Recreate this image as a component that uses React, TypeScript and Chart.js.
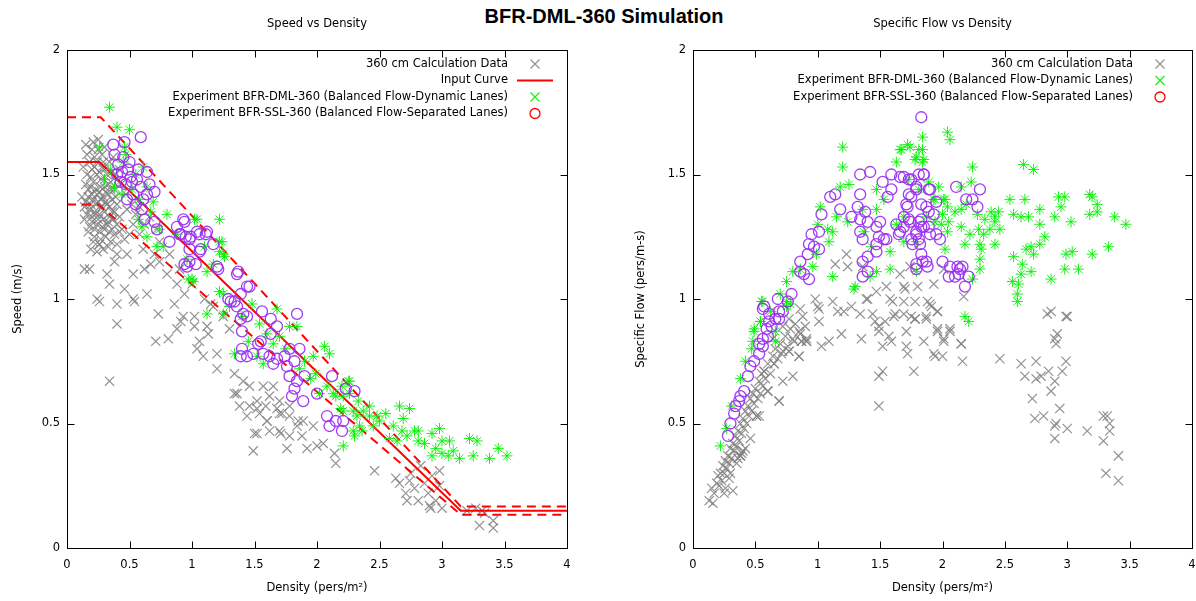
import { useEffect, useRef } from "react";
import { Chart, registerables } from "chart.js";
Chart.register(...registerables);

type P = [number, number];

const mainTitle = "BFR-DML-360 Simulation";
const leftTitle = "Speed vs Density";
const rightTitle = "Specific Flow vs Density";
const xAxisTitle = "Density (pers/m²)";
const leftYTitle = "Speed (m/s)";
const rightYTitle = "Specific Flow (pers/m-s)";
const seriesNames = [
  "360 cm Calculation Data",
  "Input Curve",
  "Experiment BFR-DML-360 (Balanced Flow-Dynamic Lanes)",
  "Experiment BFR-SSL-360 (Balanced Flow-Separated Lanes)",
];
const densityTicks = [0, 0.5, 1, 1.5, 2, 2.5, 3, 3.5, 4];
const valueTicks = [0, 0.5, 1, 1.5, 2];

// Input curve and its bounds (density, speed)
const inputCurve: P[] = [[0, 1.55], [0.26, 1.55], [3.15, 0.15], [4, 0.15]];
const inputUpper: P[] = [[0, 1.73], [0.27, 1.73], [3.15, 0.167], [4, 0.167]];
const inputLower: P[] = [[0, 1.38], [0.25, 1.38], [3.15, 0.134], [4, 0.134]];

// Speed vs density: calculation data
const calcSpeed: P[] = [
  [0.15, 1.62], [0.2, 1.6], [0.25, 1.64], [0.18, 1.55], [0.22, 1.57], [0.28, 1.58], [0.3, 1.52], [0.16, 1.5],
  [0.2, 1.52], [0.24, 1.5], [0.27, 1.48], [0.32, 1.5], [0.35, 1.47], [0.15, 1.46], [0.19, 1.45], [0.23, 1.44],
  [0.26, 1.43], [0.3, 1.45], [0.33, 1.42], [0.38, 1.44], [0.17, 1.41], [0.21, 1.4], [0.25, 1.39], [0.29, 1.41],
  [0.32, 1.38], [0.36, 1.4], [0.4, 1.38], [0.14, 1.37], [0.18, 1.36], [0.22, 1.35], [0.26, 1.34], [0.3, 1.35],
  [0.34, 1.33], [0.38, 1.35], [0.42, 1.33], [0.2, 1.31], [0.24, 1.3], [0.28, 1.29], [0.32, 1.3], [0.36, 1.28],
  [0.4, 1.3], [0.44, 1.28], [0.17, 1.27], [0.22, 1.25], [0.27, 1.24], [0.31, 1.25], [0.35, 1.23], [0.46, 1.24],
  [0.5, 1.26], [0.19, 1.2], [0.24, 1.19], [0.29, 1.2], [0.14, 1.32], [0.12, 1.41], [0.13, 1.53], [0.21, 1.47],
  [0.34, 1.55], [0.39, 1.5], [0.43, 1.46], [0.47, 1.42], [0.52, 1.38], [0.55, 1.34], [0.48, 1.36], [0.37, 1.57],
  [0.24, 1.55], [0.3, 1.61], [0.42, 1.52], [0.23, 1.34], [0.28, 1.37], [0.36, 1.35],
  [0.16, 1.58], [0.19, 1.49], [0.22, 1.53], [0.26, 1.51], [0.29, 1.55], [0.33, 1.46], [0.36, 1.51], [0.17, 1.44],
  [0.2, 1.42], [0.24, 1.42], [0.27, 1.45], [0.31, 1.43], [0.35, 1.44], [0.15, 1.39], [0.19, 1.38], [0.23, 1.38],
  [0.27, 1.4], [0.31, 1.39], [0.34, 1.37], [0.39, 1.41], [0.16, 1.34], [0.2, 1.33], [0.25, 1.32], [0.29, 1.32],
  [0.33, 1.31], [0.37, 1.32], [0.18, 1.29], [0.22, 1.28], [0.26, 1.27], [0.3, 1.28], [0.34, 1.27], [0.38, 1.26],
  [0.42, 1.27], [0.21, 1.23], [0.26, 1.22], [0.33, 1.21], [0.4, 1.22], [0.25, 1.6], [0.21, 1.63], [0.28, 1.53],
  [0.14, 1.12], [0.18, 1.12], [0.32, 1.1], [0.26, 1.22], [0.38, 1.15], [0.4, 1.18], [0.34, 1.06], [0.46, 1.04],
  [0.53, 1.1], [0.62, 1.12], [0.67, 1.14], [0.74, 1.15], [0.8, 1.1], [0.88, 1.06], [0.94, 1.02], [0.64, 1.02],
  [0.53, 1.0], [0.24, 1.0], [0.48, 1.18], [0.7, 1.18], [0.74, 1.23], [0.58, 1.26], [0.62, 1.3], [0.53, 1.3],
  [0.61, 1.2], [0.26, 0.99], [0.4, 0.98], [0.54, 0.99], [0.86, 0.98], [1.15, 0.98], [0.73, 0.94], [0.4, 0.9],
  [0.71, 0.83], [0.81, 0.84], [0.88, 0.88], [0.91, 0.91], [1.02, 0.89], [1.13, 0.86], [1.06, 0.83], [0.34, 0.67],
  [0.93, 0.93], [1.02, 0.93], [1.12, 0.89], [1.17, 0.97], [1.04, 0.8], [1.09, 0.77], [1.2, 0.78], [1.2, 0.72],
  [1.34, 0.7], [1.36, 0.62], [1.41, 0.67], [1.46, 0.65], [1.52, 0.59], [1.46, 0.57], [1.57, 0.65], [1.65, 0.65],
  [1.62, 0.61], [1.7, 0.59], [1.54, 0.54], [1.52, 0.46], [1.6, 0.51], [1.7, 0.54], [1.78, 0.57], [1.78, 0.53],
  [1.89, 0.51], [1.84, 0.49], [1.97, 0.49], [1.78, 0.45], [1.7, 0.47], [1.62, 0.47], [1.49, 0.39], [1.76, 0.4],
  [1.92, 0.4], [2.0, 0.41], [2.05, 0.42], [1.38, 0.57], [1.44, 0.53], [1.34, 0.62], [1.52, 0.56], [1.59, 0.57],
  [1.68, 0.56], [2.14, 0.38], [2.15, 0.34], [1.5, 0.46], [1.71, 0.46], [1.88, 0.45], [1.85, 0.51], [1.72, 0.54],
  [1.6, 0.51], [2.46, 0.31], [2.63, 0.28], [2.66, 0.26], [2.74, 0.27], [2.78, 0.24], [2.72, 0.19], [2.81, 0.19],
  [2.86, 0.26], [2.89, 0.22], [2.91, 0.16], [2.95, 0.19], [2.98, 0.31], [3.0, 0.16], [2.83, 0.33], [2.92, 0.29],
  [2.71, 0.22], [2.75, 0.3], [2.98, 0.25], [3.3, 0.09], [3.41, 0.08], [3.41, 0.11], [3.32, 0.15], [3.2, 0.15],
  [3.27, 0.16], [2.9, 0.17], [3.34, 0.14], [0.58, 1.37], [0.66, 1.33], [0.72, 1.28], [0.82, 1.18], [0.9, 1.12],
  [1.0, 1.06], [1.1, 1.0], [1.3, 0.88], [1.25, 0.93],
];

// Speed vs density: experiment DML (green)
const dmlSpeed: P[] = [
  [0.34, 1.77], [0.4, 1.69], [0.5, 1.68], [0.26, 1.61], [0.46, 1.61], [0.47, 1.58], [0.61, 1.53], [0.55, 1.5],
  [0.64, 1.45], [0.69, 1.39], [0.67, 1.35], [0.8, 1.34], [1.22, 1.32], [1.04, 1.32], [0.74, 1.28], [0.6, 1.29],
  [0.88, 1.26], [1.22, 1.23], [1.1, 1.21], [1.25, 1.18], [1.12, 1.11], [0.96, 1.16], [1.0, 1.08], [1.22, 1.03],
  [0.97, 1.08], [0.77, 1.21], [0.72, 1.21], [0.64, 1.25], [1.17, 1.14], [0.57, 1.32], [1.02, 1.32], [1.24, 1.23],
  [1.22, 1.19], [1.26, 1.17], [1.01, 1.07], [1.25, 1.02], [1.12, 0.94], [1.25, 0.94], [1.3, 0.97], [1.48, 0.98],
  [1.68, 0.96], [1.54, 0.9], [1.78, 0.89], [1.84, 0.89], [1.7, 0.85], [1.45, 0.83], [1.52, 0.77], [1.34, 0.78],
  [1.97, 0.77], [2.06, 0.81], [2.1, 0.78], [1.57, 0.74], [1.86, 0.72], [1.99, 0.7], [2.08, 0.65], [2.26, 0.67],
  [2.2, 0.65], [2.21, 0.61], [2.33, 0.59], [2.42, 0.57], [2.48, 0.53], [2.32, 0.53], [2.21, 0.55], [2.13, 0.62],
  [2.36, 0.47], [2.3, 0.45], [2.21, 0.41], [2.25, 0.67], [2.26, 0.62], [2.15, 0.61], [2.19, 0.56], [2.29, 0.55],
  [2.37, 0.55], [2.42, 0.53], [2.5, 0.51], [2.45, 0.49], [2.34, 0.49], [2.29, 0.47], [2.66, 0.57], [2.74, 0.56],
  [2.55, 0.54], [2.69, 0.52], [2.61, 0.49], [2.68, 0.47], [2.58, 0.44], [2.64, 0.43], [2.72, 0.45], [2.81, 0.47],
  [2.81, 0.43], [2.78, 0.47], [2.86, 0.42], [2.92, 0.46], [2.98, 0.48], [3.0, 0.43], [2.95, 0.4], [3.0, 0.38],
  [3.06, 0.43], [3.09, 0.39], [3.14, 0.36], [2.92, 0.37], [3.05, 0.37], [3.22, 0.44], [3.28, 0.43], [3.25, 0.37],
  [3.38, 0.36], [3.45, 0.4], [3.52, 0.37], [0.3, 1.48], [0.38, 1.45], [0.44, 1.42], [0.52, 1.44], [0.58, 1.4],
  [0.45, 1.55], [0.35, 1.52], [1.65, 0.82], [1.75, 0.8], [1.9, 0.75], [1.95, 0.68], [2.02, 0.62], [1.6, 0.86],
  [1.4, 0.93],
];

// Speed vs density: experiment SSL (purple)
const sslSpeed: P[] = [
  [0.37, 1.62], [0.46, 1.63], [0.59, 1.65], [0.38, 1.58], [0.41, 1.54], [0.49, 1.52], [0.51, 1.49], [0.47, 1.46],
  [0.56, 1.48], [0.64, 1.51], [0.7, 1.43], [0.64, 1.42], [0.59, 1.45], [0.4, 1.5], [0.43, 1.47], [0.53, 1.42],
  [0.62, 1.32], [0.7, 1.31], [0.72, 1.28], [0.82, 1.23], [0.88, 1.29], [0.94, 1.31], [0.91, 1.26], [0.99, 1.25],
  [1.04, 1.27], [1.12, 1.27], [1.07, 1.2], [0.96, 1.13], [1.03, 1.14], [1.21, 1.12], [1.36, 1.1], [1.44, 1.05],
  [1.29, 1.0], [1.34, 0.99], [0.5, 1.55], [0.45, 1.57], [0.93, 1.32], [0.9, 1.26], [0.95, 1.25], [0.98, 1.24],
  [1.06, 1.26], [1.11, 1.26], [1.17, 1.22], [0.98, 1.2], [1.06, 1.19], [0.98, 1.15], [0.94, 1.14], [1.2, 1.13],
  [1.37, 1.11], [1.46, 1.05], [1.39, 1.02], [1.31, 0.99], [1.36, 0.97], [1.41, 0.94], [1.39, 0.92], [1.44, 0.93],
  [1.4, 0.87], [1.56, 0.95], [1.63, 0.92], [1.68, 0.89], [1.63, 0.86], [1.55, 0.83], [1.84, 0.94], [1.53, 0.82],
  [1.4, 0.8], [1.39, 0.77], [1.44, 0.77], [1.49, 0.78], [1.57, 0.78], [1.62, 0.77], [1.68, 0.76], [1.74, 0.77],
  [1.78, 0.8], [1.86, 0.8], [1.82, 0.75], [1.65, 0.74], [1.76, 0.73], [1.78, 0.69], [1.84, 0.67], [1.9, 0.69],
  [1.82, 0.64], [2.0, 0.62], [1.8, 0.61], [1.89, 0.59], [2.12, 0.69], [2.23, 0.64], [2.3, 0.63], [2.08, 0.53],
  [2.15, 0.51], [2.21, 0.51], [2.1, 0.49], [2.2, 0.47], [0.48, 1.4], [0.55, 1.38], [0.6, 1.36], [0.52, 1.47],
  [0.57, 1.52], [0.66, 1.46], [0.44, 1.51], [0.61, 1.4],
];

// Specific flow vs density: calculation data
const calcFlow: P[] = [
  [0.13, 0.19], [0.16, 0.18], [0.15, 0.24], [0.17, 0.22], [0.19, 0.26], [0.21, 0.25], [0.2, 0.29], [0.22, 0.3],
  [0.23, 0.27], [0.24, 0.33], [0.25, 0.3], [0.26, 0.35], [0.27, 0.32], [0.28, 0.37], [0.29, 0.34], [0.3, 0.4],
  [0.31, 0.36], [0.32, 0.23], [0.32, 0.42], [0.33, 0.39], [0.34, 0.45], [0.35, 0.41], [0.36, 0.47], [0.37, 0.43],
  [0.38, 0.37], [0.38, 0.5], [0.39, 0.46], [0.4, 0.52], [0.41, 0.48], [0.42, 0.55], [0.43, 0.5], [0.44, 0.57],
  [0.45, 0.53], [0.46, 0.6], [0.47, 0.55], [0.48, 0.62], [0.49, 0.58], [0.5, 0.64], [0.51, 0.53], [0.52, 0.6],
  [0.53, 0.67], [0.54, 0.62], [0.55, 0.7], [0.56, 0.65], [0.57, 0.71], [0.58, 0.68], [0.6, 0.63], [0.6, 0.74],
  [0.62, 0.7], [0.64, 0.77], [0.65, 0.74], [0.66, 0.8], [0.68, 0.76], [0.69, 0.59], [0.7, 0.82], [0.72, 0.67],
  [0.72, 0.79], [0.74, 0.85], [0.76, 0.81], [0.77, 0.79], [0.78, 0.88], [0.8, 0.69], [0.8, 0.84], [0.81, 0.83],
  [0.82, 0.9], [0.85, 0.77], [0.85, 0.87], [0.87, 0.83], [0.88, 0.93], [0.91, 0.83], [0.9, 0.89], [0.25, 0.22],
  [0.29, 0.28], [0.35, 0.34], [0.42, 0.4], [0.46, 0.44], [0.36, 0.36], [0.39, 0.38], [0.26, 0.24], [0.3, 0.3],
  [0.38, 0.37], [0.4, 0.39], [0.51, 0.53], [0.53, 0.53], [0.69, 0.59], [0.6, 0.63], [0.57, 0.71], [0.65, 0.74],
  [0.71, 0.78], [0.77, 0.79], [0.85, 0.77], [0.87, 0.83], [0.91, 0.83], [1.03, 0.81], [1.09, 0.83], [1.19, 0.86],
  [1.01, 0.96], [1.01, 0.91], [1.12, 0.99], [1.21, 0.95], [1.34, 0.94], [1.35, 0.84], [1.4, 1.0], [1.44, 0.94],
  [1.46, 0.91], [1.49, 0.89], [1.49, 0.87], [1.52, 0.81], [1.54, 0.91], [1.57, 0.85], [1.59, 0.83], [1.49, 0.69],
  [1.52, 0.71], [1.49, 0.57], [1.6, 0.99], [1.62, 0.94], [1.69, 0.94], [1.75, 0.93], [1.78, 0.92], [1.71, 0.87],
  [1.71, 0.81], [1.72, 0.78], [1.77, 0.71], [1.85, 0.83], [1.87, 0.93], [1.9, 0.98], [1.96, 0.95], [1.96, 0.87],
  [1.93, 0.78], [1.94, 0.77], [2.0, 0.77], [2.01, 0.83], [2.06, 0.87], [2.15, 0.82], [2.16, 0.75], [2.46, 0.76],
  [2.63, 0.74], [2.66, 0.69], [2.75, 0.75], [2.84, 0.94], [2.99, 0.93], [2.72, 0.6], [2.74, 0.52], [2.81, 0.53],
  [2.75, 0.68], [2.79, 0.69], [2.85, 0.71], [2.87, 0.63], [2.9, 0.67], [2.9, 0.84], [2.91, 0.82], [2.96, 0.71],
  [2.99, 0.75], [2.94, 0.56], [2.9, 0.49], [2.91, 0.5], [2.9, 0.44], [3.0, 0.48], [3.16, 0.47], [3.29, 0.53],
  [3.32, 0.53], [3.34, 0.5], [3.34, 0.47], [3.29, 0.43], [3.41, 0.37], [3.31, 0.3], [3.41, 0.27],
  [1.23, 1.18], [1.14, 1.14], [1.24, 1.13], [1.36, 1.13], [1.66, 1.1], [1.55, 1.05], [1.47, 1.03], [1.39, 1.0],
  [1.58, 1.0], [1.69, 1.05], [1.8, 1.05], [1.91, 0.97], [1.61, 0.93], [1.27, 0.97], [1.16, 0.95], [1.0, 0.97],
  [0.98, 1.0], [0.86, 0.96], [0.86, 0.86], [0.91, 0.84], [0.64, 0.84], [0.72, 0.89], [0.77, 0.92], [1.74, 1.13],
  [1.93, 1.06], [2.01, 1.12], [1.7, 1.04], [1.69, 0.99], [1.78, 0.99], [1.88, 0.99], [1.96, 0.95], [2.17, 1.01],
  [1.78, 0.92], [1.87, 0.92], [1.96, 0.88], [2.06, 0.88], [2.01, 0.84], [2.15, 0.82], [2.87, 0.95], [3.0, 0.93],
  [2.92, 0.86],
];

// Specific flow vs density: experiment DML (green)
const dmlFlow: P[] = [
  [1.2, 1.61], [1.2, 1.53], [1.18, 1.45], [1.25, 1.46], [1.02, 1.37], [1.15, 1.33], [1.08, 1.28], [1.0, 1.3],
  [1.12, 1.27], [1.24, 1.31], [1.09, 1.23], [0.99, 1.18], [0.96, 1.13], [0.8, 1.11], [0.86, 1.12], [1.12, 1.09],
  [1.3, 1.05], [0.75, 1.07], [0.55, 0.99], [0.54, 0.91], [0.49, 0.88], [0.48, 0.83], [0.75, 0.99], [0.78, 0.98],
  [1.36, 1.36], [1.47, 1.44], [1.37, 1.27], [1.43, 1.21], [1.47, 1.36], [1.53, 1.4], [1.63, 1.55], [1.67, 1.6],
  [1.72, 1.62], [1.79, 1.57], [1.81, 1.6], [1.84, 1.65], [1.85, 1.56], [1.73, 1.48], [1.81, 1.44], [1.89, 1.47],
  [1.94, 1.4], [1.94, 1.31], [1.87, 1.33], [1.79, 1.23], [1.69, 1.23], [1.58, 1.19], [1.47, 1.11], [1.58, 1.12],
  [1.79, 1.11], [1.29, 1.04], [1.42, 1.09], [1.63, 1.3], [1.69, 1.33], [2.04, 1.67], [2.06, 1.64], [1.84, 1.6],
  [1.66, 1.6], [1.74, 1.61], [1.78, 1.56], [1.84, 1.55], [2.24, 1.53], [2.65, 1.54], [2.73, 1.52], [2.23, 1.47],
  [2.15, 1.45], [1.97, 1.45], [2.01, 1.4], [2.04, 1.37], [2.1, 1.35], [2.19, 1.38], [2.39, 1.35], [2.45, 1.35],
  [2.42, 1.31], [2.34, 1.32], [2.54, 1.4], [2.66, 1.4], [2.57, 1.34], [2.63, 1.33], [2.69, 1.33], [2.78, 1.36],
  [2.78, 1.3], [2.9, 1.33], [2.93, 1.41], [2.98, 1.41], [2.95, 1.37], [3.03, 1.31], [3.18, 1.42], [3.2, 1.41],
  [3.24, 1.38], [3.18, 1.34], [3.24, 1.35], [3.38, 1.33], [3.47, 1.3], [3.33, 1.21], [3.2, 1.18], [3.04, 1.19],
  [2.99, 1.18], [2.98, 1.12], [3.09, 1.12], [2.87, 1.08], [2.82, 1.25], [2.78, 1.22], [2.73, 1.18], [2.71, 1.21],
  [2.67, 1.2], [2.64, 1.14], [2.63, 1.1], [2.71, 1.11], [2.57, 1.17], [2.56, 1.07], [2.61, 1.06], [2.6, 1.02],
  [2.3, 1.22], [2.31, 1.2], [2.33, 1.26], [2.42, 1.22], [2.38, 1.28], [2.46, 1.28], [2.29, 1.28], [2.22, 1.26],
  [2.3, 1.16], [2.3, 1.12], [2.24, 1.08], [2.18, 0.93], [2.15, 1.29], [2.18, 1.22], [2.05, 1.31], [1.99, 1.3],
  [2.04, 1.27], [2.0, 1.34], [2.15, 1.36], [2.02, 1.2], [2.28, 1.34], [2.42, 1.33], [1.93, 1.4], [2.02, 1.4],
  [0.22, 0.41], [0.31, 0.57], [0.38, 0.68], [0.47, 0.8], [0.54, 0.91], [0.49, 0.87], [0.56, 0.99], [0.66, 0.87],
  [0.75, 0.97], [2.21, 0.91], [2.6, 0.99], [0.66, 0.83], [0.27, 0.48], [0.42, 0.75], [0.62, 0.95], [0.7, 1.02],
];

// Specific flow vs density: experiment SSL (purple)
const sslFlow: P[] = [
  [0.28, 0.45], [0.37, 0.59], [0.41, 0.63], [0.44, 0.69], [0.46, 0.73], [0.49, 0.75], [0.53, 0.78], [0.56, 0.81],
  [0.6, 0.85], [0.63, 0.89], [0.66, 0.92], [0.69, 0.95], [0.72, 0.95], [0.57, 0.97], [0.76, 0.99], [0.38, 0.61],
  [0.34, 0.57], [0.3, 0.5], [0.33, 0.54], [1.83, 1.73], [1.34, 1.5], [1.42, 1.51], [1.1, 1.41], [1.14, 1.42],
  [1.18, 1.36], [1.03, 1.34], [1.34, 1.42], [1.27, 1.33], [1.32, 1.37], [1.38, 1.35], [1.34, 1.32], [1.4, 1.31],
  [1.34, 1.27], [1.36, 1.24], [1.47, 1.29], [1.5, 1.31], [1.49, 1.25], [1.55, 1.24], [1.53, 1.24], [1.47, 1.22],
  [1.47, 1.19], [1.4, 1.17], [1.36, 1.15], [1.4, 1.11], [1.36, 1.09], [1.52, 1.47], [1.59, 1.5], [1.66, 1.49],
  [1.73, 1.48], [1.81, 1.5], [1.85, 1.5], [1.59, 1.44], [1.56, 1.41], [1.73, 1.42], [1.79, 1.45], [1.89, 1.44],
  [1.71, 1.38], [1.83, 1.38], [1.89, 1.35], [1.69, 1.33], [1.73, 1.32], [1.63, 1.3], [1.81, 1.31], [1.83, 1.29],
  [1.89, 1.29], [1.66, 1.27], [1.65, 1.26], [1.79, 1.27], [1.81, 1.24], [1.75, 1.24], [1.83, 1.18], [1.87, 1.15],
  [1.79, 1.14], [1.95, 1.26], [0.79, 1.02], [0.68, 1.0], [0.56, 0.96], [0.61, 0.94], [0.69, 0.92], [0.61, 0.91],
  [0.59, 0.88], [0.56, 0.84], [0.53, 0.82], [0.86, 1.15], [0.92, 1.18], [0.97, 1.21], [0.93, 1.22], [0.86, 1.11],
  [0.93, 1.08], [0.89, 1.1], [1.01, 1.27], [0.95, 1.26], [1.01, 1.2], [1.69, 1.49], [1.75, 1.48], [1.85, 1.5],
  [1.79, 1.44], [1.9, 1.44], [1.75, 1.41], [2.11, 1.45], [2.3, 1.44], [2.19, 1.4], [2.24, 1.4], [2.28, 1.37],
  [1.95, 1.39], [1.87, 1.37], [1.93, 1.34], [1.72, 1.37], [1.69, 1.29], [1.74, 1.31], [1.83, 1.32], [1.85, 1.29],
  [1.79, 1.26], [1.9, 1.26], [1.98, 1.24], [1.76, 1.22], [1.82, 1.22], [1.84, 1.15], [2.0, 1.15], [1.88, 1.13],
  [1.79, 1.12], [2.06, 1.13], [2.12, 1.13], [2.16, 1.13], [2.05, 1.09], [2.1, 1.09], [2.13, 1.1], [2.21, 1.09],
  [2.18, 1.05], [2.14, 1.12],
];

const FONT = "'DejaVu Sans', Verdana, sans-serif";
const FONT_SIZE = 11.5;
const GRAY = "rgba(128,128,128,0.85)";
const GREEN = "rgba(0,240,0,0.9)";
const PURPLE = "rgba(155,50,240,0.95)";
const RED = "#ff0000";

type LegendKind = "cross" | "line" | "greenX" | "circle";
interface PanelCfg {
  title: string;
  yTitle: string;
  yTitleX: number;
  legend: { label: string; kind: LegendKind }[];
}

function drawX(ctx: CanvasRenderingContext2D, cx: number, cy: number, r: number, color: string) {
  ctx.strokeStyle = color;
  ctx.lineWidth = 1.3;
  ctx.beginPath();
  ctx.moveTo(cx - r, cy - r);
  ctx.lineTo(cx + r, cy + r);
  ctx.moveTo(cx - r, cy + r);
  ctx.lineTo(cx + r, cy - r);
  ctx.stroke();
}

function makePlugin(cfg: PanelCfg) {
  return {
    id: "gnuframe",
    afterDraw(chart: any) {
      const { ctx, chartArea: a, scales } = chart;
      const xs = scales.x;
      const ys = scales.y;
      ctx.save();
      ctx.strokeStyle = "#000";
      ctx.lineWidth = 1;
      const L = Math.round(a.left) + 0.5;
      const T = Math.round(a.top) + 0.5;
      const R = Math.round(a.right) + 0.5;
      const B = Math.round(a.bottom) + 0.5;
      ctx.strokeRect(L, T, R - L, B - T);
      ctx.beginPath();
      for (const v of densityTicks) {
        const px = Math.round(xs.getPixelForValue(v)) + 0.5;
        ctx.moveTo(px, B);
        ctx.lineTo(px, B - 7);
        ctx.moveTo(px, T);
        ctx.lineTo(px, T + 7);
      }
      for (const v of valueTicks) {
        const py = Math.round(ys.getPixelForValue(v)) + 0.5;
        ctx.moveTo(L, py);
        ctx.lineTo(L + 7, py);
        ctx.moveTo(R, py);
        ctx.lineTo(R - 7, py);
      }
      ctx.stroke();

      ctx.fillStyle = "#000";
      ctx.textAlign = "center";
      ctx.textBaseline = "middle";
      ctx.font = `${FONT_SIZE}px ${FONT}`;
      const cx = (a.left + a.right) / 2;
      ctx.fillText(cfg.title, cx, 24);
      ctx.fillText(xAxisTitle, cx, 588);
      ctx.save();
      ctx.translate(cfg.yTitleX, (a.top + a.bottom) / 2);
      ctx.rotate(-Math.PI / 2);
      ctx.fillText(cfg.yTitle, 0, 0);
      ctx.restore();

      // legend
      const textRight = a.right - 59;
      const sampleX = a.right - 32;
      ctx.textAlign = "right";
      cfg.legend.forEach((e, i) => {
        const y = 64 + i * 16.5;
        ctx.fillStyle = "#000";
        ctx.fillText(e.label, textRight, y);
        if (e.kind === "cross") drawX(ctx, sampleX, y, 4.5, GRAY);
        else if (e.kind === "greenX") drawX(ctx, sampleX, y, 4.5, GREEN);
        else if (e.kind === "line") {
          ctx.strokeStyle = RED;
          ctx.lineWidth = 2;
          ctx.beginPath();
          ctx.moveTo(sampleX - 18, y);
          ctx.lineTo(sampleX + 18, y);
          ctx.stroke();
        } else {
          ctx.strokeStyle = RED;
          ctx.lineWidth = 1.3;
          ctx.beginPath();
          ctx.arc(sampleX, y, 5, 0, Math.PI * 2);
          ctx.stroke();
        }
      });
      ctx.restore();
    },
  };
}

function toXY(pts: P[]) {
  return pts.map(([x, y]) => ({ x, y }));
}

function scatterSet(label: string, pts: P[], style: string, color: string, radius: number, width: number, order: number) {
  return {
    label,
    data: toXY(pts),
    pointStyle: style,
    pointRadius: radius,
    pointBorderColor: color,
    pointBackgroundColor: "rgba(0,0,0,0)",
    pointBorderWidth: width,
    borderColor: color,
    backgroundColor: "rgba(0,0,0,0)",
    showLine: false,
    order,
  };
}

function lineSet(label: string, pts: P[], dash: number[]) {
  return {
    label,
    data: toXY(pts),
    showLine: true,
    borderColor: RED,
    borderWidth: 2,
    borderDash: dash,
    pointRadius: 0,
    fill: false,
    order: 3,
  };
}

const tickLabel = (v: any) => `${v}`;

function buildChart(canvas: HTMLCanvasElement, datasets: any[], cfg: PanelCfg, yWidth: number, rightPad: number) {
  return new Chart(canvas, {
    type: "scatter",
    data: { datasets },
    options: {
      responsive: false,
      maintainAspectRatio: false,
      animation: false,
      events: [],
      layout: { padding: { left: 0, right: rightPad, top: 50, bottom: 0 } },
      plugins: { legend: { display: false }, tooltip: { enabled: false }, title: { display: false } },
      scales: {
        x: {
          type: "linear",
          min: 0,
          max: 4,
          ticks: { stepSize: 0.5, color: "#000", font: { family: FONT, size: FONT_SIZE }, padding: 10, maxRotation: 0, callback: tickLabel },
          grid: { display: false, drawTicks: false },
          border: { display: false },
          afterFit: (s: any) => {
            s.height = 53;
          },
        },
        y: {
          type: "linear",
          min: 0,
          max: 2,
          ticks: { stepSize: 0.5, color: "#000", font: { family: FONT, size: FONT_SIZE }, padding: 7, callback: tickLabel },
          grid: { display: false, drawTicks: false },
          border: { display: false },
          afterFit: (s: any) => {
            s.width = yWidth;
          },
        },
      },
    } as any,
    plugins: [makePlugin(cfg) as any],
  });
}

export default function App() {
  const leftRef = useRef<HTMLCanvasElement>(null);
  const rightRef = useRef<HTMLCanvasElement>(null);

  useEffect(() => {
    const left = buildChart(
      leftRef.current!,
      [
        scatterSet(seriesNames[3], sslSpeed, "circle", PURPLE, 5.5, 1.3, 1),
        scatterSet(seriesNames[2], dmlSpeed, "star", GREEN, 5.5, 1, 2),
        lineSet(seriesNames[1], inputCurve, []),
        lineSet("Upper bound", inputUpper, [9, 6]),
        lineSet("Lower bound", inputLower, [9, 6]),
        scatterSet(seriesNames[0], calcSpeed, "crossRot", GRAY, 6.5, 1.2, 4),
      ],
      {
        title: leftTitle,
        yTitle: leftYTitle,
        yTitleX: 18,
        legend: [
          { label: seriesNames[0], kind: "cross" },
          { label: seriesNames[1], kind: "line" },
          { label: seriesNames[2], kind: "greenX" },
          { label: seriesNames[3], kind: "circle" },
        ],
      },
      67,
      31
    );
    const right = buildChart(
      rightRef.current!,
      [
        scatterSet(seriesNames[3], sslFlow, "circle", PURPLE, 5.5, 1.3, 1),
        scatterSet(seriesNames[2], dmlFlow, "star", GREEN, 5.5, 1, 2),
        scatterSet(seriesNames[0], calcFlow, "crossRot", GRAY, 6.5, 1.2, 4),
      ],
      {
        title: rightTitle,
        yTitle: rightYTitle,
        yTitleX: 43,
        legend: [
          { label: seriesNames[0], kind: "cross" },
          { label: seriesNames[2], kind: "greenX" },
          { label: seriesNames[3], kind: "circle" },
        ],
      },
      95,
      26
    );
    return () => {
      left.destroy();
      right.destroy();
    };
  }, []);

  return (
    <div style={{ position: "absolute", left: 0, top: 0, width: 1196, height: 601, background: "#fff", overflow: "hidden" }}>
      <div
        style={{
          position: "absolute",
          left: 6,
          top: 3,
          width: 1196,
          textAlign: "center",
          fontFamily: "'Liberation Sans', Arial, sans-serif",
          fontWeight: "bold",
          fontSize: 20,
          lineHeight: "26px",
          color: "#000",
        }}
      >
        {mainTitle}
      </div>
      <canvas ref={leftRef} width={598} height={601} style={{ position: "absolute", left: 0, top: 0 }} />
      <canvas ref={rightRef} width={620} height={601} style={{ position: "absolute", left: 598, top: 0 }} />
    </div>
  );
}
